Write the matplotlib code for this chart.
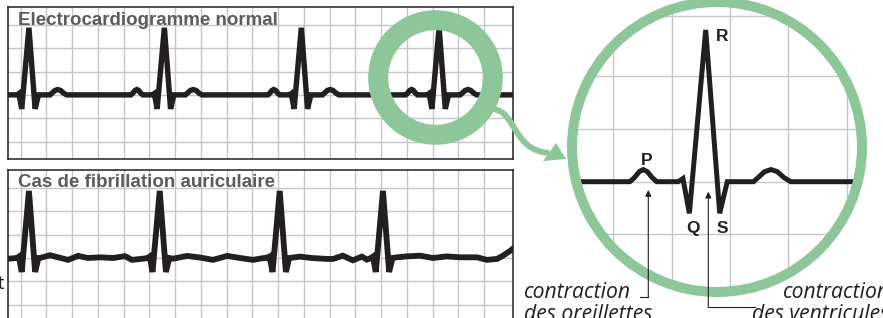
import matplotlib
matplotlib.use("Agg")
import matplotlib.pyplot as plt
from matplotlib import patches
from matplotlib.path import Path

W, H = 883, 318

# one heartbeat, in grid squares (x) and grid squares (y), R peak at x = 0
qrs_dx = [-0.47, -0.39, -0.28, 0.0, 0.24, 0.37]
qrs_dy = [0.0, 0.06, -0.60, 2.88, -0.60, 0.0]
p_dx = [-1.30, -1.22, -1.14, -1.07, -1.00, -0.92, -0.84]
p_dy = [0.0, 0.08, 0.19, 0.23, 0.19, 0.08, 0.0]
t_dx = [0.82, 0.90, 1.01, 1.12, 1.23, 1.34, 1.46]
t_dy = [0.0, 0.08, 0.19, 0.23, 0.19, 0.08, 0.0]

# R peak positions
normal_beats = [0.32, 5.58, 10.90, 16.25]
fib_beats = [0.32, 5.40, 10.06, 14.07]

# wavy baseline of the fibrillation trace
fib_x = [-0.49, 0.75, 1.14, 1.45, 1.84, 2.23, 2.61, 3.08, 3.59, 4.05, 4.32, 4.75,
         5.92, 6.46, 6.96, 7.47, 8.02, 8.52, 9.02, 9.56,
         10.85, 11.30, 11.90, 12.13, 12.51, 12.90, 13.25, 13.45,
         14.61, 15.00, 15.51, 16.01, 16.55, 17.06, 17.72, 18.11, 18.50, 18.73, 19.00, 19.12]
fib_y = [-0.03, 0.0, 0.12, 0.03, -0.08, 0.09, 0.0, 0.03, 0.0, 0.08, -0.08, -0.03,
         -0.03, 0.09, 0.02, -0.08, 0.09, 0.0, -0.08, 0.02,
         0.06, 0.0, -0.04, -0.04, 0.10, -0.10, 0.06, -0.07,
         0.03, 0.07, 0.10, 0.0, 0.07, 0.03, 0.03, -0.08, -0.04, 0.10, 0.30, 0.40]

ink = '#231f20'
grid_c = '#c6c6c6'
green = '#8dc699'
title_c = '#5c5c5c'


def rect(x0, y0, x1, y1):
    return [x0 / W, 1 - y1 / H, (x1 - x0) / W, (y1 - y0) / H]


def normal_trace(beats, x0, x1):
    pts = [(x0, 0.0), (x1, 0.0)]
    for b in beats:
        for dx_list, dy_list in ((p_dx, p_dy), (qrs_dx, qrs_dy), (t_dx, t_dy)):
            pts += [(b + dx, dy) for dx, dy in zip(dx_list, dy_list)]
    pts.sort()
    return [p[0] for p in pts], [p[1] for p in pts]


def fib_trace(beats):
    pts = []
    for x, y in zip(fib_x, fib_y):
        if not any(b - 0.5 < x < b + 0.4 for b in beats):
            pts.append((x, y))
    for b in beats:
        pts += [(b + dx, dy) for dx, dy in zip(qrs_dx, qrs_dy)]
    pts.sort()
    return [p[0] for p in pts], [p[1] for p in pts]


def strip(ax, ylo, yhi, title, ty):
    ax.set_xlim(-0.493, 19.12)
    ax.set_ylim(ylo, yhi)
    ax.set_xticks(range(19))
    ax.set_yticks(range(-2, 4))
    ax.grid(True, color=grid_c, lw=1.0)
    ax.tick_params(length=0, labelbottom=False, labelleft=False)
    for s in ax.spines.values():
        s.set_linewidth(1.1)
        s.set_color(ink)
    ax.text(0.02, ty, title, transform=ax.transAxes, fontsize=13.5,
            fontweight='bold', family='Liberation Sans', color=title_c,
            va='baseline', ha='left', zorder=5)


fig = plt.figure(figsize=(W / 100, H / 100), dpi=100)

# top strip: normal ECG
ax1 = fig.add_axes(rect(8, 7, 513, 159))
strip(ax1, -2.75, 3.77, 'Electrocardiogramme normal', 1 - 18 / 152)
x, y = normal_trace(normal_beats, -0.6, 19.3)
ax1.plot(x, y, color=ink, lw=3.9, solid_joinstyle='miter', zorder=3)

# bottom strip: atrial fibrillation
ax2 = fig.add_axes(rect(8, 170, 513, 318))
strip(ax2, -2.575, 3.777, 'Cas de fibrillation auriculaire', 1 - 17 / 148)
ax2.spines['bottom'].set_visible(False)
x, y = fib_trace(fib_beats)
ax2.plot(x, y, color=ink, lw=4.2, solid_joinstyle='miter', zorder=3)

# overlay in pixel units
ov = fig.add_axes([0, 0, 1, 1])
ov.set_xlim(0, W)
ov.set_ylim(H, 0)
ov.axis('off')
ov.set_zorder(5)
ov.patch.set_alpha(0)

# magnified beat
az = fig.add_axes(rect(560, 0, 875, 300))
az.set_zorder(3)
az.patch.set_alpha(0)
az.set_xlim(-2.499, 2.904)
az.set_ylim(-2.245, 3.448)
az.set_xticks([-1.583, -0.583, 0.417, 1.417, 2.417])
az.set_yticks([-1, 0, 1, 2, 3.15])
az.tick_params(length=0, labelbottom=False, labelleft=False)
for s in az.spines.values():
    s.set_visible(False)
az.grid(True, color=grid_c, lw=1.0)
clip = patches.Circle((717, 147), 141, transform=ov.transData)
for gl in az.get_xgridlines() + az.get_ygridlines():
    gl.set_clip_path(clip)
x, y = normal_trace([0.0], -2.13, 2.53)
zl, = az.plot(x, y, color=ink, lw=3.6, solid_joinstyle='miter', zorder=3)
zl.set_clip_path(clip)

lab = dict(fontsize=12.5, fontweight='bold', family='Liberation Sans', color=ink,
           ha='center', va='center')
az.text(-1.01, 0.40, 'P', **lab)
az.text(0.29, 2.75, 'R', **lab)
az.text(-0.22, -0.88, 'Q', **lab)
az.text(0.29, -0.88, 'S', **lab)

# rings
ov.add_patch(patches.Circle((435.5, 77.5), 57.3, fill=False, ec=green, lw=14.4))
ov.add_patch(patches.Circle((717, 147), 145, fill=False, ec=green, lw=7.2))

# curved green arrow
verts = [(493, 109), (517, 112), (512, 150), (549, 153)]
arrow = Path(verts, [Path.MOVETO, Path.CURVE4, Path.CURVE4, Path.CURVE4])
ov.add_patch(patches.PathPatch(arrow, fill=False, ec=green, lw=4.3, capstyle='butt'))
ov.add_patch(patches.Polygon([(556, 143), (543, 161), (566, 159)], closed=True,
                             fc=green, ec='none'))

# pointers
ov.plot([640, 648.3], [297, 297], color=ink, lw=0.8)
ov.annotate('', xy=(648.3, 190), xytext=(648.3, 297.4),
            arrowprops=dict(arrowstyle='-|>', lw=0.8, color=ink,
                            mutation_scale=9, shrinkA=0, shrinkB=0))
ov.plot([708.3, 755], [307, 307], color=ink, lw=0.8)
ov.annotate('', xy=(708.3, 191.7), xytext=(708.3, 307.4),
            arrowprops=dict(arrowstyle='-|>', lw=0.8, color=ink,
                            mutation_scale=9, shrinkA=0, shrinkB=0))

note = dict(fontsize=15.2, style='italic', family='Open Sans', color=ink,
            va='baseline', ha='left')
ov.text(524, 298.5, 'contraction', **note)
ov.text(524, 320, 'des oreillettes', **note)
ov.text(783, 298.5, 'contraction', **note)
ov.text(752, 320, 'des ventricules', **note)
ov.text(4, 289, 't', fontsize=13, family='Open Sans', color=ink,
        ha='right', va='baseline')

fig.savefig('out.png', dpi=100)
